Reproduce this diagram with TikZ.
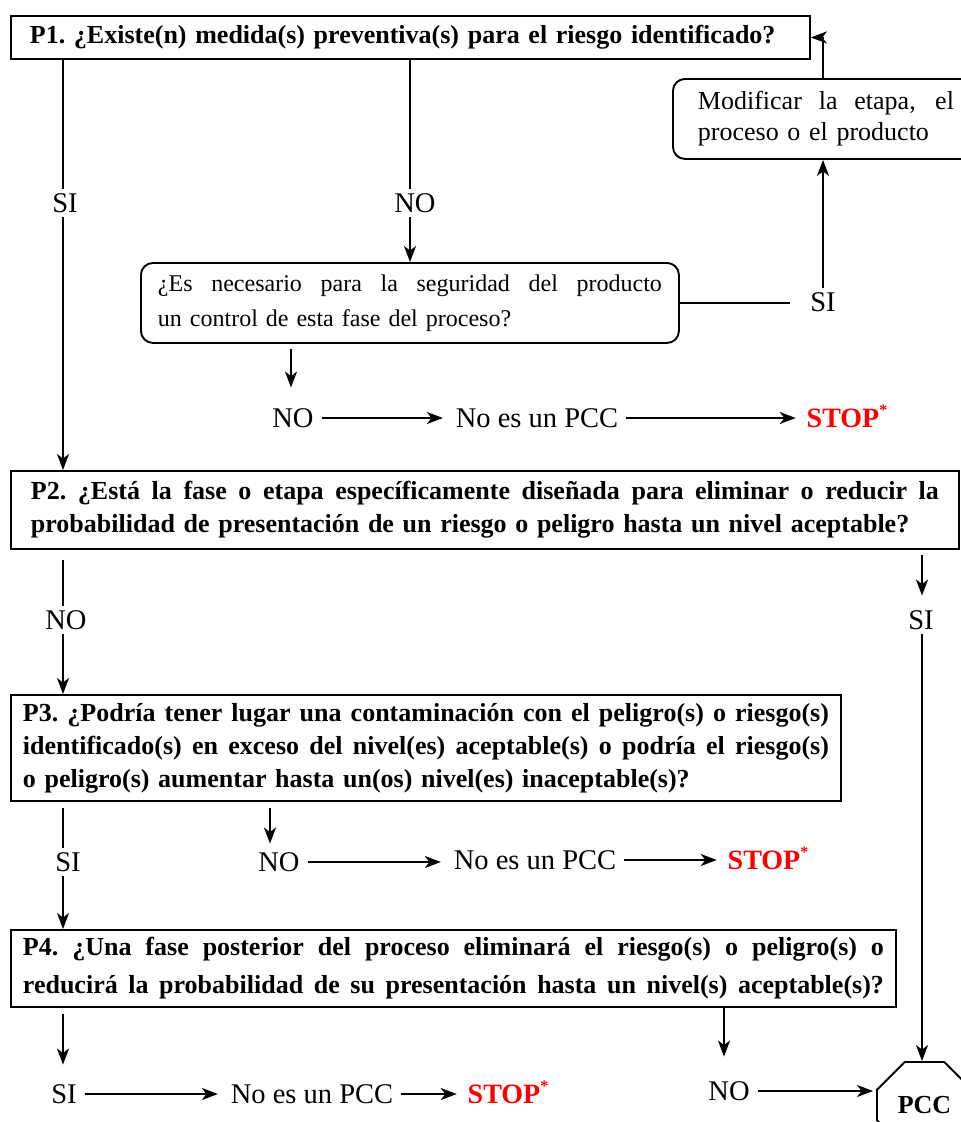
\documentclass[tikz,border=0pt]{standalone}
\usepackage{fontspec}
\setmainfont{Liberation Serif}
\usetikzlibrary{arrows.meta,shapes.misc}

% one justified line spanning the full text width of a box
\newcommand\jline[1]{\noindent\hbox to \hsize{\spaceskip=0pt\xspaceskip=0pt #1}\par}

\begin{document}
\begin{tikzpicture}[x=1pt,y=-1pt,
  line width=1.9pt,
  >={Stealth[length=16pt,width=12pt,inset=4.5pt]},
  qbox/.style={draw, rectangle, anchor=north west, align=left, inner ysep=0pt,
    font=\fontsize{26}{33}\selectfont\bfseries},
  rbox/.style={draw, rectangle, rounded corners=12pt, anchor=north west, align=left,
    inner ysep=0pt},
  lbl/.style={inner xsep=7pt, inner ysep=4pt, text height=19pt, text depth=0pt,
    font=\fontsize{28.5}{30}\selectfont},
  stopw/.style={lbl, text=red, font=\fontsize{28}{30}\selectfont\bfseries},
]
\useasboundingbox (0,0) rectangle (961,1122);
\clip (0,0) rectangle (961,1122);

% x positions of the vertical connectors
\coordinate (xa) at (63,0);
\coordinate (xb) at (410,0);
\coordinate (xc) at (823,0);
\coordinate (xd) at (291,0);
\coordinate (xe) at (270,0);
\coordinate (xf) at (724,0);
\coordinate (xg) at (922,0);

% question boxes
\node[qbox, inner xsep=19pt, text width=761pt, minimum height=43pt] (p1) at (10,15)
  {P1.\ ¿Existe(n) medida(s) preventiva(s) para el riesgo identificado?};
\node[qbox, inner xsep=20pt, text width=908pt, minimum height=78pt] (p2) at (10,470)
  {\jline{P2.\ ¿Está la fase o etapa específicamente diseñada para eliminar o reducir la}%
   \noindent probabilidad de presentación de un riesgo o peligro hasta un nivel aceptable?};
\node[qbox, inner xsep=12pt, text width=806pt, minimum height=106pt] (p3) at (10,694)
  {\jline{P3.\ ¿Podría tener lugar una contaminación con el peligro(s) o riesgo(s)}%
   \jline{identificado(s) en exceso del nivel(es) aceptable(s) o podría el riesgo(s)}%
   \noindent o peligro(s) aumentar hasta un(os) nivel(es) inaceptable(s)?};
\node[qbox, inner xsep=12pt, text width=861pt, minimum height=77pt,
  font=\fontsize{26}{38}\selectfont\bfseries] (p4) at (10,929)
  {\jline{P4.\ ¿Una fase posterior del proceso eliminará el riesgo(s) o peligro(s) o}%
   \jline{reducirá la probabilidad de su presentación hasta un nivel(s) aceptable(s)?}};

% rounded boxes
\node[rbox, inner xsep=25pt, text width=256pt, minimum height=80pt,
  font=\fontsize{26}{31}\selectfont] (mod) at (672,78)
  {\jline{Modificar la etapa, el}\noindent proceso o el producto};
\node[rbox, inner xsep=17pt, text width=504pt, minimum height=80pt,
  font=\fontsize{24}{35}\selectfont] (q) at (140,262)
  {\jline{¿Es necesario para la seguridad del producto}\noindent un control de esta fase del proceso?};

% final critical control point
\node[draw, chamfered rectangle, chamfered rectangle xsep=20pt, chamfered rectangle ysep=19pt,
  minimum width=95pt, minimum height=86pt, inner sep=0pt,
  font=\fontsize{26}{26}\selectfont\bfseries] (pcc) at (924.5,1105) {PCC};

% answer labels
\node[lbl] (si1) at (65,203) {SI};
\node[lbl] (no1) at (415,203) {NO};
\node[lbl] (si2) at (823,302) {SI};
\node[lbl] (no2) at (293,418) {NO};
\node[lbl] (n1) at (537,418) {No es un PCC};
\node[stopw] (stop1) at (847,418) {STOP\raisebox{12pt}{\fontsize{16}{16}\selectfont *}};
\node[lbl] (no4) at (66,620) {NO};
\node[lbl] (si3) at (921,620) {SI};
\node[lbl] (si5) at (68,862) {SI};
\node[lbl] (no5) at (279,862) {NO};
\node[lbl] (n2) at (535,860) {No es un PCC};
\node[stopw] (stop2) at (768,860) {STOP\raisebox{12pt}{\fontsize{16}{16}\selectfont *}};
\node[lbl] (si6) at (64,1094) {SI};
\node[lbl] (n3) at (312,1094) {No es un PCC};
\node[stopw] (stop3) at (508,1094) {STOP\raisebox{12pt}{\fontsize{16}{16}\selectfont *}};
\node[lbl] (no6) at (729,1091) {NO};

% P1 branches
\draw (p1.south -| xa) -- (si1.north -| xa);
\draw[->] (si1.south -| xa) -- (p2.north -| xa);
\draw (p1.south -| xb) -- (no1.north -| xb);
\draw[->] (no1.south -| xb) -- (q.north -| xb);
\draw[shorten >=12pt] (q.east) -- (q.east -| si2.west);
\draw[->] (si2.north -| xc) -- (mod.south -| xc);
\draw[->] (mod.north -| xc) |- (p1.east);
\draw[->, shorten <=5pt, shorten >=16pt] (q.south -| xd) -- (no2.north -| xd);
\draw[->, shorten >=5pt] (no2.east) -- (no2.east -| n1.west);
\draw[->, shorten >=3pt] (n1.east) -- (n1.east -| stop1.west);

% P2 branches
\draw[shorten <=10pt] (p2.south -| xa) -- (no4.north -| xa);
\draw[->] (no4.south -| xa) -- (p3.north -| xa);
\draw[->, shorten <=5pt, shorten >=10pt] (p2.south -| xg) -- (si3.north -| xg);
\draw[->] (si3.south -| xg) -- (pcc.north -| xg);

% P3 branches
\draw[shorten <=6pt] (p3.south -| xa) -- (si5.north -| xa);
\draw[->] (si5.south -| xa) -- (p4.north -| xa);
\draw[->, shorten <=6pt, shorten >=4pt] (p3.south -| xe) -- (no5.north -| xe);
\draw[->, shorten >=5pt] (no5.east) -- (no5.east -| n2.west);
\draw[->, shorten >=3pt] (n2.east) -- (n2.east -| stop2.west);

% P4 branches
\draw[->, shorten <=6pt, shorten >=15pt] (p4.south -| xa) -- (si6.north -| xa);
\draw[->, shorten >=5pt] (si6.east) -- (si6.east -| n3.west);
\draw[->, shorten >=3pt] (n3.east) -- (n3.east -| stop3.west);
\draw[->, shorten >=20pt] (p4.south -| xf) -- (no6.north -| xf);
\draw[->, shorten >=3pt] (no6.east) -- (no6.east -| pcc.west);
\end{tikzpicture}
\end{document}
